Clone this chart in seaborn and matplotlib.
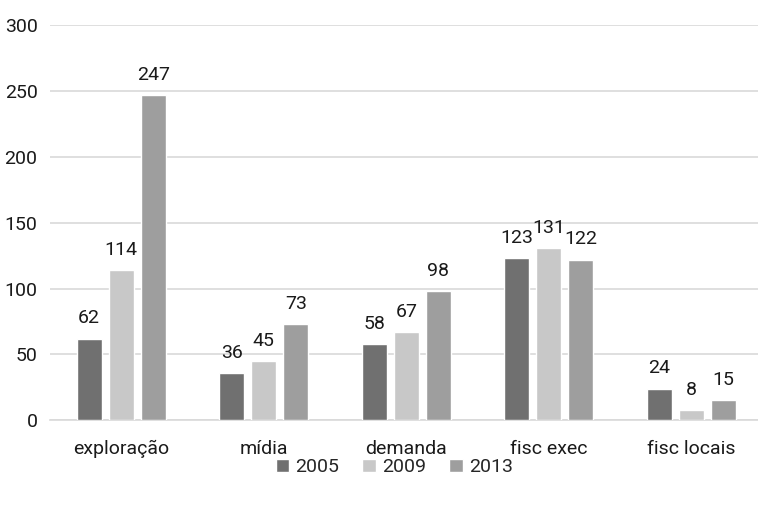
import pandas as pd
import matplotlib.pyplot as plt
import seaborn as sns
from matplotlib.patches import Patch

categories = ["exploração", "mídia", "demanda", "fisc exec", "fisc locais"]
years = ["2005", "2009", "2013"]
v2005 = [62, 36, 58, 123, 24]
v2009 = [114, 45, 67, 131, 8]
v2013 = [247, 73, 98, 122, 15]
colors = ["#707070", "#c8c8c8", "#9e9e9e"]

df = pd.DataFrame({
    "categoria": categories * 3,
    "ano": [y for y in years for _ in categories],
    "valor": v2005 + v2009 + v2013,
})

sns.set_style("white")
plt.rcParams['font.family'] = ['Roboto', 'DejaVu Sans']

fig = plt.figure(figsize=(7.58, 5.05), dpi=100)
ax = fig.add_axes([0.066, 0.168, 0.94, 0.782])
sns.barplot(data=df, x="categoria", y="valor", hue="ano", palette=colors,
            width=0.675, gap=0.22, ax=ax, legend=False, zorder=3)

for c in ax.containers:
    ax.bar_label(c, padding=8, fontsize=14, color="#1a1a1a")

ax.set_ylim(0, 300)
ax.set_yticks(range(0, 301, 50))
ax.yaxis.grid(True, color="#d9d9d9", linewidth=1.2, zorder=0)
ax.set_axisbelow(True)
sns.despine(ax=ax, left=True)
ax.spines["bottom"].set_color("#d9d9d9")
ax.spines["bottom"].set_linewidth(1.2)
ax.tick_params(axis="both", length=0, labelsize=14, colors="#1a1a1a")
ax.tick_params(axis="x", pad=14)
ax.tick_params(axis="y", pad=9)
ax.set_xlabel("")
ax.set_ylabel("")

handles = [Patch(facecolor=c, label=y) for c, y in zip(colors, years)]
fig.legend(handles=handles, loc="center", bbox_to_anchor=(0.52, 0.075), ncol=3,
           frameon=False, fontsize=14, handlelength=0.7, handleheight=0.7,
           handletextpad=0.3, columnspacing=1.2)

fig.savefig("out.png", dpi=100)
